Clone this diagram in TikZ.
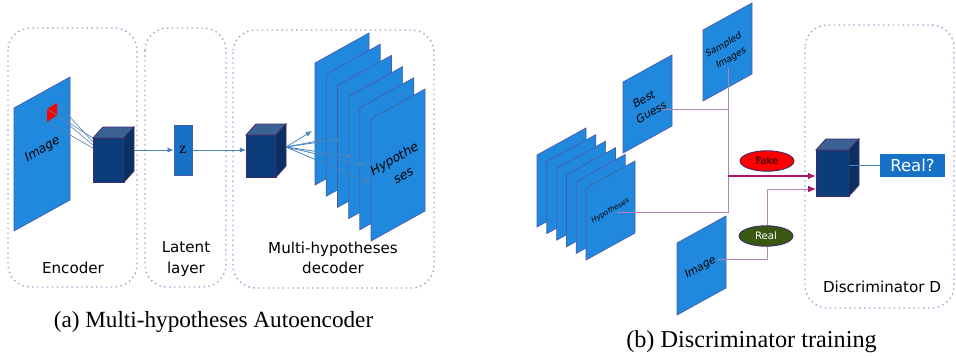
\documentclass[tikz,border=0pt]{standalone}
\usepackage{fontspec}
\setmainfont{Liberation Serif}
\setsansfont{DejaVu Sans}[ItalicFont={DejaVu Sans}, ItalicFeatures={FakeSlant=0.2}]
\usetikzlibrary{%
  arrows.meta,%
  calc,%
  positioning,%
  shapes.geometric,%
}

\definecolor{sheetblue}{RGB}{33,137,221}
\definecolor{sheetedge}{RGB}{72,92,172}
\definecolor{zblue}{RGB}{22,114,198}
\definecolor{cubeface}{RGB}{12,61,122}
\definecolor{cubelid}{RGB}{58,98,146}
\definecolor{cubeflank}{RGB}{10,48,98}
\definecolor{cubeline}{RGB}{62,44,110}
\definecolor{framelilac}{RGB}{168,158,204}
\definecolor{flowblue}{RGB}{72,132,192}
\definecolor{feedmauve}{RGB}{178,132,176}
\definecolor{fakeline}{RGB}{178,18,112}
\definecolor{realgreen}{RGB}{58,88,18}

% one sheet of a stack: name, left x, top y, width, rise, height
\newcommand{\sheet}[6]{%
  \draw[sheet] (#2,#3) -- ++(#4,-#5) -- ++(0,#6) -- ++(-#4,#5) -- cycle;
  \coordinate (#1) at ({#2+#4/2},{#3+#6/2-#5/2});%
}
% a layer block seen from the front: name, centre x, centre y, width, height
\newcommand{\block}[5]{%
  \node[blockface, minimum width=#4*0.02cm, minimum height=#5*0.02cm] (#1) at (#2,#3) {};
  \draw[blocklid] (#1.north west) -- ++(10,-11) -- ++(#4,0) -- (#1.north east) -- cycle;
  \draw[blockflank] (#1.north east) -- ++(10,-11) -- ++(0,#5) -- (#1.south east) -- cycle;%
}

\begin{document}
\begin{tikzpicture}[x=0.02cm, y=-0.02cm,
    frame/.style={draw=framelilac, dotted, line width=0.8pt, rounded corners=0.45cm},
    sheet/.style={fill=sheetblue, draw=sheetedge, line width=0.4pt},
    blockface/.style={fill=cubeface, draw=cubeline, line width=0.5pt, inner sep=0pt, outer sep=0pt},
    blocklid/.style={fill=cubelid, draw=cubeline, line width=0.5pt},
    blockflank/.style={fill=cubeflank, draw=cubeline, line width=0.5pt},
    sheettext/.style 2 args={rotate=30, align=center, inner sep=0pt, font=\sffamily\itshape\fontsize{#1}{#2}\selectfont},
    panel/.style={align=center, font=\sffamily\fontsize{8.6}{11.6}\selectfont},
    caption/.style={font=\rmfamily\fontsize{13.2}{15}\selectfont},
    flow/.style={draw=flowblue, line width=0.45pt, -{Latex[length=3.5pt,width=3pt]}},
    field/.style={draw=flowblue!80!gray, line width=0.35pt},
    feed/.style={draw=feedmauve, line width=0.5pt},
    fakeflow/.style={draw=fakeline, line width=0.9pt, -{Latex[length=4.5pt,width=3.8pt]}},
    realflow/.style={feed, -{Latex[length=4.5pt,width=3.8pt,color=fakeline]}},
    tag/.style={ellipse, draw=cubeline, line width=0.5pt, inner sep=0pt, minimum width=1.08cm, minimum height=0.41cm, font=\sffamily\fontsize{5.8}{6.5}\selectfont},
  ]
  \useasboundingbox (0,0) rectangle (956,358);

  % (a) multi-hypotheses autoencoder
  \draw[frame] (8,28) rectangle (137,287);
  \draw[frame] (145,28) rectangle (226,287);
  \draw[frame] (233,30) rectangle (434,288);

  \sheet{inimg}{14}{108}{56}{31}{123}
  \fill[red] (47,109) coordinate (rf1) -- (57,103) coordinate (rf2)
    -- (57,115) coordinate (rf3) -- (47,122) coordinate (rf4) -- cycle;
  \node[sheettext={7}{8.5}] (inimglbl) at (42,150) {Image};

  \foreach \k/\hy in {1/138,2/142,3/145,4/148}
    \coordinate (eh\k) at (93,\hy);
  \foreach \k in {1,...,4}
    \draw[field] (rf\k) -- (eh\k);
  \block{enc}{108.5}{160}{31}{44}

  \node[fill=zblue, draw=sheetedge, line width=0.4pt, minimum width=0.36cm, minimum height=1cm, inner sep=0pt,
    font=\rmfamily\fontsize{9}{10}\selectfont] (z) at (183,150) {z};
  \draw[flow] ($(z.west -| enc.east)+(10,0)$) -- (z.west);

  \block{dec}{261}{156}{30}{42}
  \draw[flow] (z.east) -- (z.east -| dec.west);

  \foreach \i in {0,...,5}{
    \sheet{hyp\i}{315+11.2*\i}{63+11.2*\i}{54}{30}{122}
  }
  \coordinate (decout) at ($(dec.east)+(10,-9)$);
  \foreach \ex/\ey [count=\k] in {312/131,323/140,340/139,353/157,365/165,370/183}
    \coordinate (hit\k) at (\ex,\ey);
  \foreach \k in {1,...,6}
    \draw[flow] (decout) -- (hit\k);
  \node[sheettext={7.2}{10.5}] (hyplbl) at (398,167) {Hypothe\\ses};

  \node[panel] (enclbl) at (73,268) {Encoder};
  \node[panel] (latlbl) at (186,259) {Latent\\layer};
  \node[panel] (declbl) at (333,258) {Multi-hypotheses\\decoder};
  \node[caption] (capa) at (213.5,322) {(a) Multi-hypotheses Autoencoder};

  % (b) discriminator training
  \draw[frame] (805,25) rectangle (954,308);

  \foreach \i in {0,...,5}{
    \sheet{cand\i}{537+9.8*\i}{155+6.6*\i}{49}{27}{72}
  }
  \sheet{best}{623}{82}{49}{27}{71}
  \sheet{smp}{703}{30}{49}{27}{71}
  \sheet{img}{677}{243}{49}{27}{72}

  \node[sheettext={4.1}{5}] (candlbl) at (610,211) {Hypotheses};
  \node[sheettext={6.2}{8.5}] (bestlbl) at (647,106) {Best\\Guess};
  \node[sheettext={5.2}{8.5}] (smplbl) at (727,52) {Sampled\\Images};
  \node[sheettext={6.2}{8}] (imglbl) at (700,268) {Image};

  \block{disc}{832.5}{173}{33}{46}

  \coordinate (smpout) at (728,68);
  \coordinate (bestout) at (662,109);
  \coordinate (candout) at (617,212);
  \coordinate (imgout) at (718,259);
  \coordinate (join) at (728,176);
  \coordinate (bend) at (767,189);

  \draw[feed] (smpout) -- (smpout |- candout) -- (candout);
  \draw[feed] (bestout) -- (bestout -| smpout);
  \draw[fakeflow] (join) -- (join -| disc.west);
  \draw[realflow] (imgout) -| (bend) -- (bend -| disc.west);

  \node[tag, fill=red, text=black] (fake) at (767,161) {Fake};
  \node[tag, fill=realgreen, text=white] (real) at (766,236) {Real};

  \node[fill=zblue, minimum width=1.3cm, minimum height=0.46cm, inner sep=0pt, text=white,
    font=\sffamily\fontsize{9.4}{11}\selectfont] (verdict) at (912.5,165.5) {Real?};
  \draw[draw=flowblue, line width=0.5pt] (verdict.west -| disc.east) -- (verdict.west);

  \node[panel] (disclbl) at (882,287) {Discriminator D};
  \node[caption, font=\rmfamily\fontsize{13.8}{15}\selectfont] (capb) at (751.5,342) {(b) Discriminator training};
\end{tikzpicture}
\end{document}
